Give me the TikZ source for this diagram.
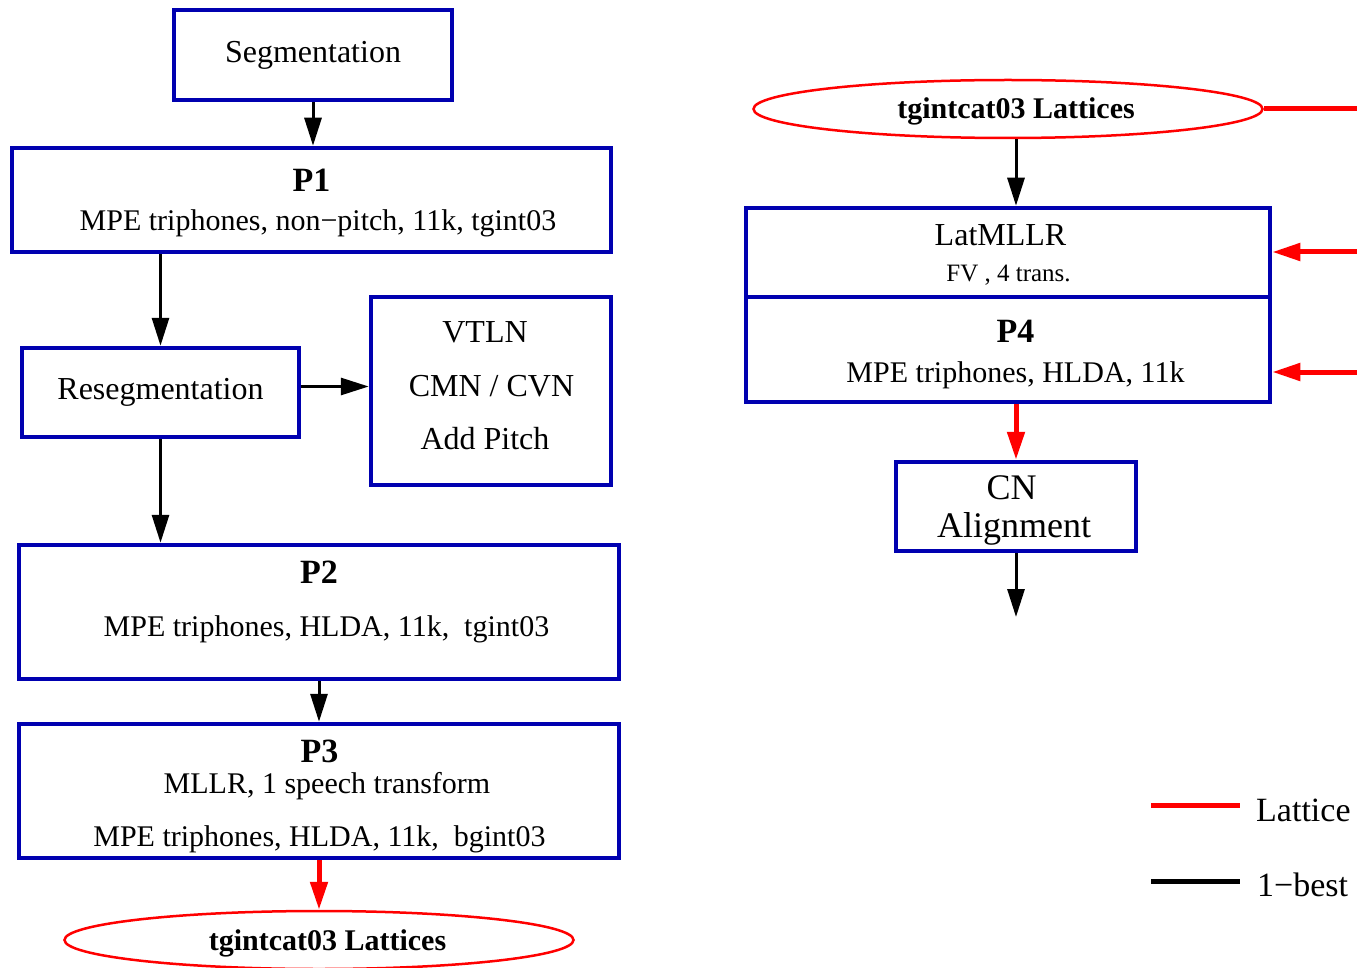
\documentclass[tikz,border=0pt]{standalone}
\usepackage{fontspec}
\setmainfont{Liberation Serif}
\usetikzlibrary{arrows.meta,shapes.geometric}
\definecolor{stageblue}{HTML}{0000B0}
\definecolor{latred}{HTML}{FF0000}
\newcommand{\fsz}[1]{\fontsize{#1}{#1}\selectfont}
\tikzset{
  every picture/.style={line join=miter, >={Triangle[length=28pt,width=17pt]}},
  stagebox/.style={draw=stageblue, line width=4.5pt, inner sep=0pt},
  latnode/.style={ellipse, draw=latred, line width=2.5pt, inner sep=0pt, minimum width=509pt, minimum height=58pt},
  onebest/.style={->, line width=3pt},
  lattice/.style={->, draw=latred, line width=5pt},
  latline/.style={draw=latred, line width=5pt},
  txt/.style={anchor=base, inner sep=0pt, font=\fsz{30}},
  ttl/.style={anchor=base, inner sep=0pt, font=\fsz{34}\bfseries},
}

\begin{document}
\begin{tikzpicture}[x=1pt,y=-1pt]
\useasboundingbox (0,0) rectangle (1357,968);
% left column: first pass
\node[stagebox, minimum width=278pt, minimum height=90pt, font=\fsz{32}] (seg) at (313,55) {Segmentation};
\node[stagebox, minimum width=599pt, minimum height=104pt] (p1) at (311.5,200) {};
\node[ttl] (p1title) at (311.5,192) {P1};
\node[txt] (p1text) at (318,231) {MPE triphones, non−pitch, 11k, tgint03};
\node[stagebox, minimum width=277pt, minimum height=89pt, font=\fsz{32}] (reseg) at (160.5,392.5) {Resegmentation};
\node[stagebox, minimum width=240pt, minimum height=188pt] (feat) at (491,391) {};
\node[txt, font=\fsz{32}] (vtln) at (485,342) {VTLN};
\node[txt, font=\fsz{32}] (cmn) at (491.5,396) {CMN / CVN};
\node[txt, font=\fsz{32}] (pitch) at (485,449) {Add Pitch};
\node[stagebox, minimum width=600pt, minimum height=134pt] (p2) at (319,612) {};
\node[ttl] (p2title) at (319,583) {P2};
\node[txt] (p2text) at (326.5,636) {MPE triphones, HLDA, 11k,\ \ tgint03};
\node[stagebox, minimum width=600pt, minimum height=134pt] (p3) at (319,791) {};
\node[ttl] (p3title) at (319.5,762) {P3};
\node[txt] (p3mllr) at (327,793) {MLLR, 1 speech transform};
\node[txt] (p3text) at (319.5,846) {MPE triphones, HLDA, 11k,\ \ bgint03};
\node[latnode] (latbot) at (319,940) {};
\node[txt, font=\fsz{30}\bfseries] (latbottext) at (327.5,950) {tgintcat03 Lattices};
% right column: lattice rescoring
\node[latnode] (lattop) at (1008,109) {};
\node[txt, font=\fsz{30}\bfseries] (lattoptext) at (1016,119) {tgintcat03 Lattices};
\node[stagebox, minimum width=524pt, minimum height=89pt] (latmllr) at (1008,252.5) {};
\node[txt, font=\fsz{32}] (latmllrtitle) at (1000.5,246) {LatMLLR};
\node[txt, font=\fsz{25}] (latmllrtext) at (1008.5,282) {FV , 4 trans.};
\node[stagebox, minimum width=524pt, minimum height=105pt] (p4) at (1008,349.5) {};
\node[ttl] (p4title) at (1015.5,342) {P4};
\node[txt] (p4text) at (1015.5,382) {MPE triphones, HLDA, 11k};
\node[stagebox, minimum width=240pt, minimum height=89pt] (cn) at (1016,506.5) {};
\node[txt, font=\fsz{36}] (cntitle) at (1011.5,499) {CN};
\node[txt, font=\fsz{36}] (cntext) at (1014,537) {Alignment};
\coordinate (cnout) at (1016,617);
\coordinate (inA) at (1360,109);
\coordinate (inB) at (1360,252);
\coordinate (inC) at (1360,372);
% connectors
\draw[onebest] (seg.south) -- (seg.south |- p1.north);
\draw[onebest] (reseg.north |- p1.south) -- (reseg.north);
\draw[onebest] (reseg.south) -- (reseg.south |- p2.north);
\draw[onebest] ([yshift=6pt]reseg.east) -- ([yshift=6pt]reseg.east -| feat.west);
\draw[onebest] (p2.south) -- (p3.north);
\draw[lattice] (p3.south) -- (latbot.north);
\draw[onebest] (lattop.south -| cn.north) -- (latmllr.north -| cn.north);
\draw[latline] (lattop.east) -- (inA);
\draw[lattice] (inB) -- (inB -| latmllr.east);
\draw[lattice] (inC) -- (inC -| p4.east);
\draw[lattice] (p4.south -| cn.north) -- (cn.north);
\draw[onebest] (cn.south) -- (cnout);
% key
\coordinate (latkeyA) at (1151,805);
\coordinate (latkeyB) at (1240,805);
\coordinate (bestkeyA) at (1151,881);
\coordinate (bestkeyB) at (1240,881);
\draw[latline] (latkeyA) -- (latkeyB);
\draw[line width=5pt] (bestkeyA) -- (bestkeyB);
\node[txt, anchor=base west, font=\fsz{34}] (latkey) at (1256,821) {Lattice};
\node[txt, anchor=base west, font=\fsz{34}] (bestkey) at (1257,896) {1−best};
\end{tikzpicture}
\end{document}
